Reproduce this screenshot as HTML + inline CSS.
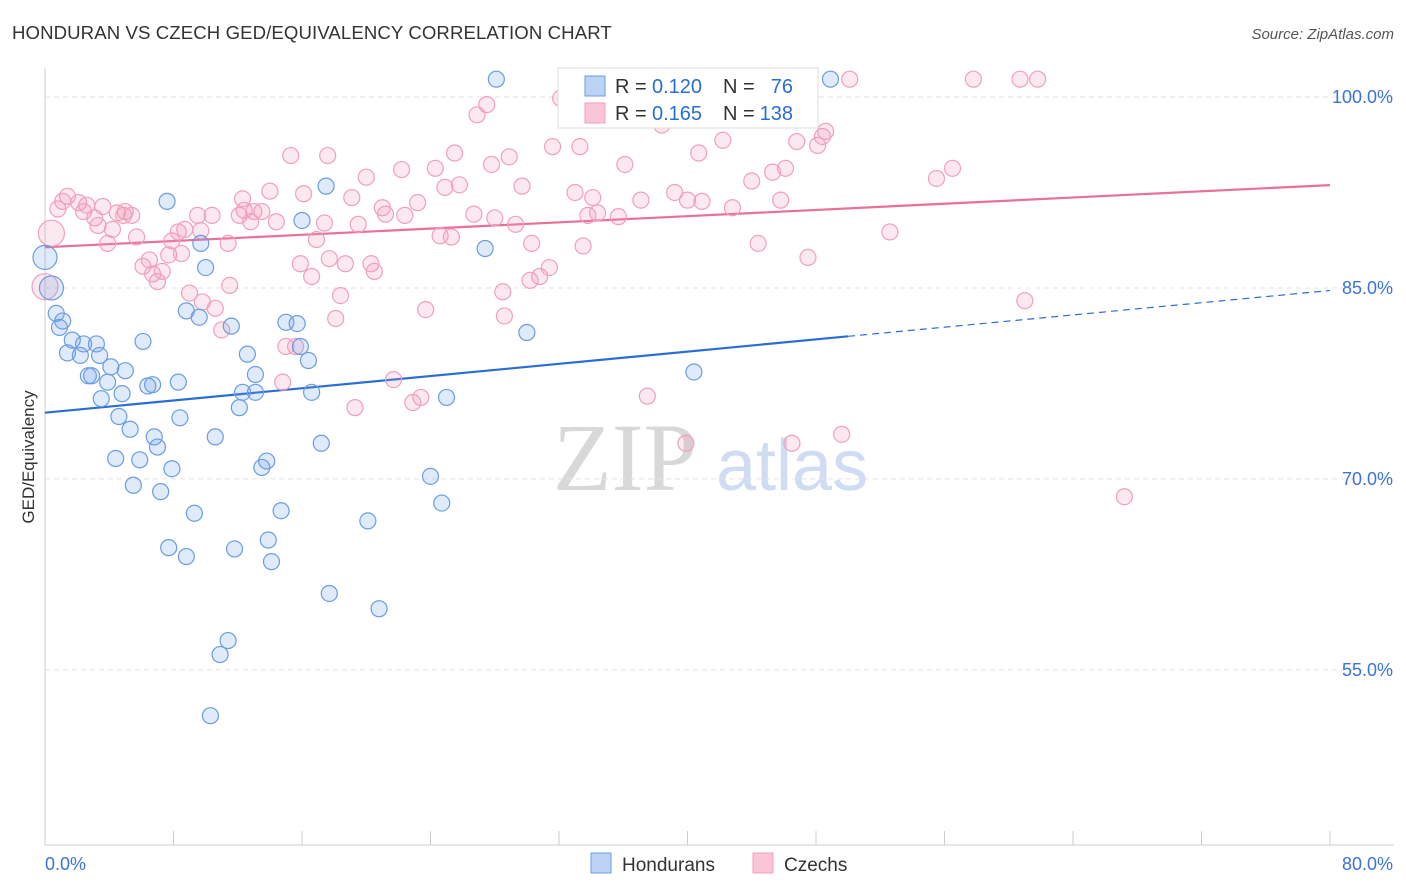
<!DOCTYPE html>
<html><head><meta charset="utf-8"><style>
body{margin:0;background:#fff;font-family:"Liberation Sans",sans-serif}
svg{display:block}
</style></head><body>
<svg id="chart" width="1406" height="892" viewBox="0 0 1406 892" xmlns="http://www.w3.org/2000/svg">
<text x="12" y="39" font-size="18.6" fill="#333" letter-spacing="0.1">HONDURAN VS CZECH GED/EQUIVALENCY CORRELATION CHART</text>
<text x="1394" y="39" font-size="15" fill="#555" font-style="italic" text-anchor="end">Source: ZipAtlas.com</text>
<text transform="translate(34,457) rotate(-90)" font-size="17" fill="#333" text-anchor="middle">GED/Equivalency</text>
<g>
<text x="553" y="490" font-family="Liberation Serif,serif" font-size="96" fill="#d8d8d8">ZIP</text>
<text x="716" y="490" font-size="72" fill="#cfdcf2">atlas</text>
</g>
<g id="grid"></g><g id="axes"></g><g id="lines"></g><g id="points"></g>
<g>
<rect x="558" y="68" width="260" height="60" fill="#fff" stroke="#ddd"/>
<rect x="585" y="76" width="20" height="20" fill="#bcd3f5" stroke="#6a9de0"/>
<rect x="585" y="103" width="20" height="20" fill="#f8c6d6" stroke="#f0a0bb"/>
<text x="615" y="93" font-size="20" fill="#333">R =</text>
<text x="652" y="93" font-size="20" fill="#2a6dd4">0.120</text>
<text x="723" y="93" font-size="20" fill="#333">N =</text>
<text x="793" y="93" font-size="20" fill="#2a6dd4" text-anchor="end">76</text>
<text x="615" y="120" font-size="20" fill="#333">R =</text>
<text x="652" y="120" font-size="20" fill="#2a6dd4">0.165</text>
<text x="723" y="120" font-size="20" fill="#333">N =</text>
<text x="793" y="120" font-size="20" fill="#2a6dd4" text-anchor="end">138</text>
</g>
<g>
<rect x="591" y="853" width="20" height="20" fill="#bcd3f5" stroke="#6a9de0"/>
<text x="622" y="871" font-size="19" fill="#333">Hondurans</text>
<rect x="753" y="853" width="20" height="20" fill="#f8c6d6" stroke="#f0a0bb"/>
<text x="784" y="871" font-size="19" fill="#333">Czechs</text>
</g>
</svg>
<script>
const yTicks=[100,85,70,55];
const xTickVals=[0,8,16,24,32,40,48,56,64,72,80];
const xLabels=["0.0%","80.0%"];
const blueX=[28.1,48.9,7.6,17.5,16.0,9.7,27.4,10.0,0,0.4,0.7,1.1,0.9,8.8,9.6,11.6,15.0,15.7,1.7,2.4,3.2,1.4,2.2,3.4,6.1,12.6,15.9,16.4,30.0,4.1,5.0,2.7,2.9,3.9,6.4,6.7,8.3,13.1,12.3,13.1,16.6,4.8,3.5,12.1,25.0,40.4,4.6,8.4,5.3,6.8,7.0,10.6,17.2,4.4,5.9,13.8,13.5,7.9,24.0,24.7,5.5,7.2,9.3,14.7,20.1,7.7,11.8,13.9,8.8,14.1,17.7,20.8,11.4,10.9,10.3];
const blueY=[101.4,101.4,91.8,93.0,90.3,88.5,88.1,86.6,87.4,85.0,83.0,82.4,81.9,83.2,82.7,82.0,82.3,82.2,80.9,80.6,80.6,79.9,79.7,79.7,80.8,79.8,80.4,79.3,81.5,78.8,78.5,78.1,78.1,77.6,77.3,77.4,77.6,78.2,76.8,76.8,76.8,76.7,76.3,75.6,76.4,78.4,74.9,74.8,73.9,73.3,72.5,73.3,72.8,71.6,71.5,71.4,70.9,70.8,70.2,68.1,69.5,69.0,67.3,67.5,66.7,64.6,64.5,65.2,63.9,63.5,61.0,59.8,57.3,56.2,51.4];
const pinkX=[0.4,0,0.8,1.4,1.1,2.1,2.6,3.6,2.4,3.1,4.5,5.0,5.4,4.9,3.3,4.2,3.9,5.7,6.1,6.5,6.7,7.0,7.3,7.7,7.9,8.3,8.7,9.7,9.5,10.4,8.5,9.0,9.8,10.6,11.0,11.5,11.4,12.1,12.4,12.8,13.0,13.5,14.4,14.0,12.3,15.3,16.1,17.6,16.9,17.4,17.7,15.9,16.6,18.7,18.4,18.1,19.1,20.0,21.0,21.2,22.2,22.4,23.2,20.3,20.5,19.5,15.0,15.6,14.8,21.7,22.9,23.4,19.3,23.7,24.3,24.9,25.5,25.8,24.6,25.3,26.7,26.9,27.5,27.8,28.0,28.9,29.3,29.7,28.5,28.6,30.3,30.2,30.8,31.4,31.6,32.1,33.3,33.0,33.5,33.8,34.1,34.4,35.7,36.1,36.2,37.1,38.4,39.2,40.0,40.9,40.7,42.2,42.8,44.4,44.0,45.3,45.8,46.1,46.8,47.5,48.1,48.4,48.6,50.1,39.9,37.5,46.5,49.6,55.5,56.5,52.6,57.8,60.7,61.8,61.0,67.2];
const pinkY=[89.3,85.1,91.2,92.2,91.8,91.7,91.5,91.4,91.0,90.5,90.9,91.0,90.7,90.7,89.9,89.6,88.5,89.0,86.7,87.2,86.1,85.5,86.3,87.6,88.7,89.4,89.6,89.5,90.7,90.7,87.7,84.6,83.9,83.4,81.7,85.2,88.5,90.7,91.1,90.2,91.0,91.0,90.2,92.6,92.0,95.4,92.4,95.4,88.8,90.1,87.3,86.9,85.9,86.9,84.4,82.6,92.1,93.7,91.3,90.8,94.3,90.7,91.7,86.9,86.3,90.0,80.4,80.4,77.6,77.8,76.0,76.4,75.6,83.3,94.4,92.9,95.6,93.1,89.1,89.0,90.8,98.6,99.4,94.7,90.5,95.3,90.0,93.0,84.7,82.8,88.5,85.6,85.9,86.6,96.1,99.9,96.1,92.5,88.3,90.7,92.1,90.9,90.6,94.7,101.3,91.9,97.8,92.5,91.9,91.8,95.6,96.6,91.3,88.5,93.4,94.1,91.9,94.4,96.5,87.4,96.2,96.9,97.3,101.4,72.8,76.5,72.8,73.5,93.6,94.4,89.4,101.4,101.4,101.4,84.0,68.6];
const blueFit=[75.2,0.12,50];
const pinkFit=[88.2,0.061];
const X0=45,X1=1330,Y100=97,PXPER=12.73;
const sx=v=>X0+(X1-X0)*v/80;
const sy=v=>Y100+(100-v)*PXPER;
const NS="http://www.w3.org/2000/svg";
function mk(tag,attrs,parent){const e=document.createElementNS(NS,tag);for(const k in attrs)e.setAttribute(k,attrs[k]);document.getElementById(parent).appendChild(e);return e;}
yTicks.forEach(t=>{
 const l=mk('line',{x1:X0,x2:1394,y1:sy(t),y2:sy(t),stroke:'#e2e2e2','stroke-dasharray':'5,4'},'grid');
 
 
 const tx=mk('text',{x:1393,y:sy(t)+6,'font-size':18,fill:'#3b74d6','text-anchor':'end'},'grid');
 tx.textContent=t.toFixed(1)+'%';
 
 
});
const ya=mk('line',{x1:X0,x2:X0,y1:68,y2:845,stroke:'#ccc'},'axes');


const xa=mk('line',{x1:X0,x2:1394,y1:845,y2:845,stroke:'#ccc'},'axes');


xTickVals.forEach(v=>{
 const t=mk('line',{x1:sx(v),x2:sx(v),y1:831,y2:845,stroke:'#ccc'},'axes');
 
 
});
const xl0=mk('text',{x:45,y:870,'font-size':18,fill:'#3b74d6'},'axes');xl0.textContent=xLabels[0];


const xl1=mk('text',{x:1393,y:870,'font-size':18,fill:'#3b74d6','text-anchor':'end'},'axes');xl1.textContent=xLabels[1];


function dot(x,y,r,fill,stroke,name){const c=mk('circle',{cx:sx(x),cy:sy(y),r:r,fill:fill,stroke:stroke,'stroke-width':1.2},'points');
 
 }
pinkX.forEach((x,i)=>dot(x,pinkY[i],(i<2?13:8),'rgba(242,150,180,0.22)','#f0a0bb','czech-point'));
blueX.forEach((x,i)=>dot(x,blueY[i],(i==8||i==9?12:8),'rgba(110,160,235,0.22)','#6a9de0','honduran-point'));
const bf=x=>blueFit[0]+blueFit[1]*x;
const pf=x=>pinkFit[0]+pinkFit[1]*x;
const bl=mk('line',{x1:sx(0),y1:sy(bf(0)),x2:sx(blueFit[2]),y2:sy(bf(blueFit[2])),stroke:'#2a6dd4','stroke-width':2.2},'lines');


const bd=mk('line',{x1:sx(blueFit[2]),y1:sy(bf(blueFit[2])),x2:sx(80),y2:sy(bf(80)),stroke:'#2a6dd4','stroke-width':1.2,'stroke-dasharray':'7,5'},'lines');


const pl=mk('line',{x1:sx(0),y1:sy(pf(0)),x2:sx(80),y2:sy(pf(80)),stroke:'#e8709a','stroke-width':2.2},'lines');


</script>
</body></html>
